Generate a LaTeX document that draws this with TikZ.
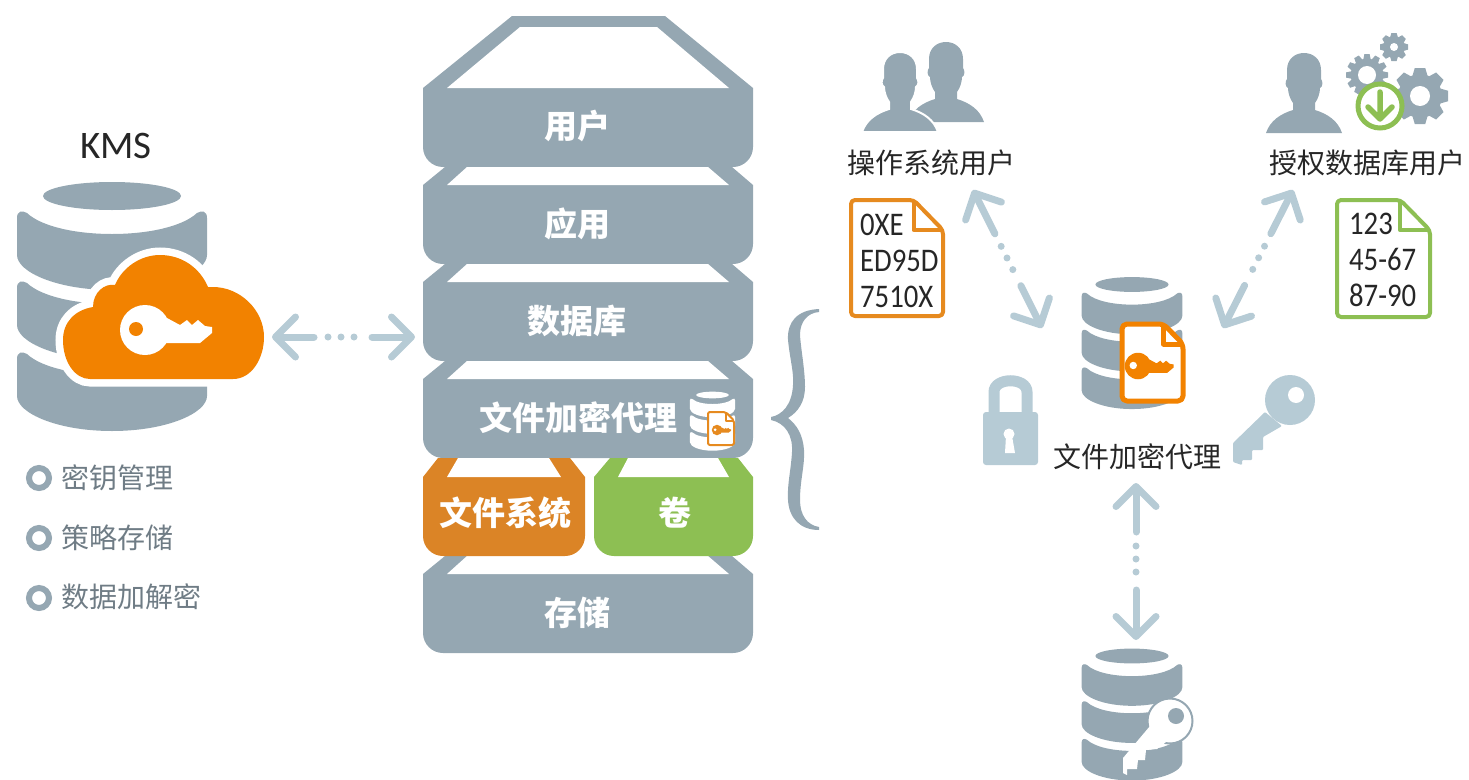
\documentclass[tikz,border=0pt]{standalone}
\usepackage{fontspec}
\usetikzlibrary{arrows.meta}
\setmainfont{Carlito}
\newfontfamily\cjk{Noto Sans CJK SC}
\definecolor{slate}{HTML}{95A7B2}
\definecolor{pale}{HTML}{B6CBD5}
\definecolor{cloudor}{HTML}{F28200}
\definecolor{fsor}{HTML}{DB8426}
\definecolor{fileor}{HTML}{E68A1F}
\definecolor{volgr}{HTML}{8DBF53}
\definecolor{listgr}{HTML}{6F7C85}
\tikzset{
  layertxt/.style = {text=white, font=\cjk\bfseries\fontsize{33}{36}\selectfont},
  caption/.style = {text=black!85, font=\cjk\fontsize{28}{32}\selectfont},
  listtxt/.style = {text=listgr, anchor=west, font=\cjk\fontsize{28}{32}\selectfont},
  filetxt/.style = {text=black!85, align=left, anchor=north west, inner sep=0pt, xscale=.87, transform shape, font=\fontsize{33}{36}\selectfont},
  bullet/.style = {draw=slate, circle, line width=6pt, minimum size=20pt, inner sep=0pt},
  dotlink/.style = {<->, pale, line width=7pt, line cap=round, line join=round,
    dash pattern=on #1pt off 14pt on 0pt off 13pt on 0pt off 13pt on 0pt off 18pt on 200pt},
  pics/dbicon/.style = {code={
    \fill[#1] (0,0) ellipse [x radius=69, y radius=14];
    \foreach \t in {16,86,157}
      \fill[#1] (-95,\t+6) .. controls (-95,\t-1) and (-90,\t-2) .. (-85,\t+1)
        .. controls (-55,\t+29) and (55,\t+29) .. (85,\t+1)
        .. controls (90,\t-2) and (95,\t-1) .. (95,\t+6) -- (95,\t+43)
        .. controls (95,\t+60) and (55,\t+78) .. (0,\t+78)
        .. controls (-55,\t+78) and (-95,\t+60) .. (-95,\t+43) -- cycle;
  }},
  pics/keyicon/.style 2 args = {code={
    \fill[#1] (0,0) circle (25);
    \fill[#1] (15,-12) -- (22,-12) -- (35,-5) -- (42,-10) -- (47,-5) -- (53,-10) -- (60,-4)
      -- (67,-3) -- (67,3) -- (55,13) -- (15,13) -- cycle;
    \fill[#2] (-9,-1) circle (7);
  }},
  pics/fileicon/.style n args = {4}{code={
    \draw[#3, fill=white, line width=#4pt, rounded corners=#4pt, line join=round]
      (0,0) -- (.68*#1,0) -- (#1,.26*#2) -- (#1,#2) -- (0,#2) -- cycle;
    \draw[#3, line width=#4pt, line join=round] (.68*#1,0) -- (.68*#1,.26*#2) -- (#1,.26*#2);
  }},
  pics/personicon/.style = {code={
    \path[fill=slate, #1] (-38,0) .. controls (-34,-12) and (-24,-19) .. (-11,-23) -- (-11,-30)
      .. controls (-14,-34) and (-16,-40) .. (-16,-45) .. controls (-19,-46) and (-19,-52) .. (-17,-54)
      -- (-17,-63) .. controls (-17,-74) and (-9,-80) .. (0,-80) .. controls (9,-80) and (17,-74) .. (17,-63)
      -- (17,-54) .. controls (19,-52) and (19,-46) .. (16,-45) .. controls (16,-40) and (14,-34) .. (11,-30)
      -- (11,-23) .. controls (24,-19) and (34,-12) .. (38,0) -- cycle;
  }},
  pics/gearicon/.style n args = {3}{code={
    \fill[slate] (0,0) circle (.78*#2);
    \foreach \i in {1,...,#1}
      \fill[slate, rotate=\i*360/#1] (-2.2*#2/#1,-.7*#2) -- (-1.5*#2/#1,-#2) -- (1.5*#2/#1,-#2) -- (2.2*#2/#1,-.7*#2) -- cycle;
    \fill[white] (0,0) circle (#3);
  }},
}
\begin{document}
\begin{tikzpicture}[x=1pt, y=-1pt, >={Straight Barb[round,length=20pt,width=40pt]}]
\useasboundingbox (0,0) rectangle (1469,779);

% kms side
\node[inner sep=0pt, font=\fontsize{39}{44}\selectfont, text=black!85] (kms) at (116,146) {KMS};
\pic at (112,196) {dbicon=slate};
\path[fill=cloudor, preaction={draw=white, line width=15pt}] (90,379) -- (233,379)
  .. controls (252,379) and (264,358) .. (264,337) .. controls (264,310) and (240,287) .. (213,287) -- (208,287)
  .. controls (200,268) and (182,255) .. (160,255) .. controls (140,255) and (122,268) .. (115,285)
  .. controls (105,283) and (93,292) .. (93,307) .. controls (75,310) and (63,322) .. (63,340)
  .. controls (63,362) and (75,379) .. (90,379) -- cycle;
\pic at (145,330) {keyicon={white}{cloudor}};
\node[bullet] (b1) at (39,478) {};
\node[bullet] (b2) at (39,538) {};
\node[bullet] (b3) at (39,598) {};
\node[listtxt] (l1) at (58,478) {密钥管理};
\node[listtxt] (l2) at (58,538) {策略存储};
\node[listtxt] (l3) at (58,597) {数据加解密};

% stack
\fill[slate] (512,16) -- (665,16) -- (753,88) -- (753,147) arc (0:90:20) -- (443,167) arc (90:180:20) -- (423,88) -- cycle;
\fill[white] (520,27) -- (657,27) -- (729,88) -- (447,88) -- cycle;
\foreach \y in {167,264,361,556} {
  \fill[slate] (445,\y) -- (732,\y) -- (753,\y+18) -- (753,\y+77) arc (0:90:20) -- (443,\y+97) arc (90:180:20) -- (423,\y+18) -- cycle;
  \fill[white] (467,\y) -- (708,\y) -- (729,\y+18) -- (447,\y+18) -- cycle;
}
\fill[fsor] (438,458) -- (570,458) -- (585,477) -- (585,536) arc (0:90:20) -- (443,556) arc (90:180:20) -- (423,477) -- cycle;
\fill[white] (458,458) -- (549,458) -- (561,477) -- (447,477) -- cycle;
\fill[volgr] (610,458) -- (738,458) -- (753,477) -- (753,536) arc (0:90:20) -- (614,556) arc (90:180:20) -- (594,477) -- cycle;
\fill[white] (628,458) -- (718,458) -- (729,477) -- (618,477) -- cycle;
\node[layertxt] (user) at (577,126) {用户};
\node[layertxt] (app) at (577,224) {应用};
\node[layertxt] (dbase) at (577,321) {数据库};
\node[layertxt] (agentrow) at (578,418) {文件加密代理};
\node[layertxt] (fsys) at (505,513) {文件系统};
\node[layertxt] (vol) at (675,513) {卷};
\node[layertxt] (store) at (577,613) {存储};
\pic[scale=.237] at (712.5,395) {dbicon=white};
\pic at (708,412) {fileicon={26}{33}{fileor}{2}};
\pic[scale=.21] at (717,430) {keyicon={fileor}{white}};

% brace
\fill[slate] (819,309) .. controls (797,310) and (787,322) .. (788,340) .. controls (790,360) and (794,372) .. (793,385)
  .. controls (792,405) and (782,415) .. (771,417) -- (771,420) .. controls (785,423) and (793,435) .. (792,452)
  .. controls (791,470) and (787,485) .. (788,500) .. controls (789,518) and (800,530) .. (819,530) -- (819,527)
  .. controls (807,525) and (800,515) .. (800,500) .. controls (800,480) and (805,465) .. (804,450)
  .. controls (803,435) and (797,425) .. (788,418) .. controls (798,412) and (805,402) .. (805,387)
  .. controls (805,370) and (801,350) .. (800,335) .. controls (800,322) and (807,313) .. (819,312) -- cycle;

% users
\pic at (946,122) {personicon};
\pic at (900,132) {personicon={draw=white, line width=2pt}};
\node[caption] (osuser) at (931,163) {操作系统用户};
\pic at (851,200) {fileicon={92}{116}{fileor}{4}};
\node[filetxt] (osdata) at (860,214) {0XE\\ED95D\\7510X};

\pic at (1304,133) {personicon};
\pic at (1420,96) {gearicon={8}{28}{10}};
\pic at (1367,75) {gearicon={12}{21}{9}};
\pic at (1394,47) {gearicon={8}{14}{4}};
\draw[volgr, line width=5pt, fill=white] (1380,106) circle (22);
\draw[volgr, line width=5.5pt, line join=round, line cap=round] (1368,107) -- (1380,119) -- (1392,107) (1380,92) -- (1380,119);
\node[caption] (dbuser) at (1367,163) {授权数据库用户};
\pic at (1337,200) {fileicon={93}{117}{volgr}{4}};
\node[filetxt] (dbdata) at (1349,213) {123\\45-67\\87-90};

% agent
\pic[scale=.53] at (1132,284.5) {dbicon=slate};
\pic at (1122,324) {fileicon={61}{77}{cloudor}{5}};
\pic[scale=.53] at (1138,366) {keyicon={cloudor}{white}};
\node[caption] (agent) at (1137,457) {文件加密代理};

% lock and key
\draw[pale, line width=11pt] (994,415) -- (994,392) .. controls (994,377) and (1027,377) .. (1027,392) -- (1027,415);
\fill[pale, rounded corners=3pt] (983,412) rectangle (1038,465);
\fill[white] (1009,434) circle (5.5) (1006,436) -- (1012,436) -- (1015,453) -- (1005,453) -- cycle;
\fill[pale] (1290,400) circle (25);
\fill[pale, rounded corners=1pt] (1265,412) -- (1233,443) -- (1233,462) -- (1242,465) -- (1242,460) -- (1252,460) -- (1252,450) -- (1263,450) -- (1263,437) -- (1282,426) -- cycle;
\fill[white] (1296,395) circle (8);

% store
\pic[scale=.53] at (1132,656) {dbicon=slate};
\path[fill=white, draw=slate, line width=2pt] (1170,721) circle (22.5);
\fill[white] (1150,726) -- (1123,758) -- (1123,773) -- (1127,775) -- (1127,769) -- (1137,769) -- (1138,760) -- (1145,760) -- (1146,750) -- (1157,749) -- (1166,742) -- cycle;
\fill[slate] (1176,716) circle (8);

% links
\coordinate (kmsend) at (272,337);
\coordinate (stackend) at (415,337);
\coordinate (osend) at (973,190);
\coordinate (agentnw) at (1042,328);
\coordinate (dbend) at (1293,190);
\coordinate (agentne) at (1223,328);
\coordinate (agentend) at (1136,483);
\coordinate (storeend) at (1136,640);
\draw[dotlink=35] (kmsend) -- (stackend);
\draw[dotlink=42] (osend) -- (agentnw);
\draw[dotlink=42] (dbend) -- (agentne);
\draw[dotlink=42] (agentend) -- (storeend);
\end{tikzpicture}
\end{document}
